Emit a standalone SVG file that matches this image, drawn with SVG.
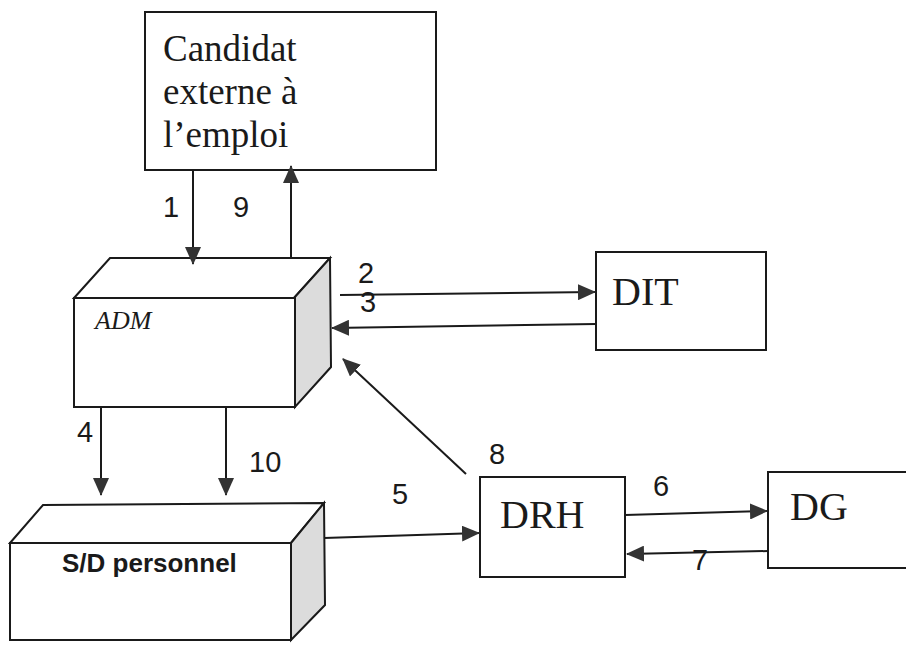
<svg xmlns="http://www.w3.org/2000/svg" width="906" height="645" viewBox="0 0 906 645">
<style>
.box{fill:#fff;stroke:#1a1a1a;stroke-width:2}
.side{fill:#dcdcdc;stroke:#1a1a1a;stroke-width:2}
.ln{stroke:#1a1a1a;stroke-width:2;fill:none;marker-end:url(#ah)}
.tm{font-family:"Liberation Serif",serif;fill:#1a1a1a}
.num{font-family:"Liberation Sans",sans-serif;font-size:29px;fill:#1a1a1a}
</style>
<defs>
<marker id="ah" markerWidth="18" markerHeight="16" refX="17" refY="8" orient="auto" markerUnits="userSpaceOnUse">
<path d="M0,0 L18,8 L0,16 z" fill="#333"/>
</marker>
</defs>
<rect width="906" height="645" fill="#fff"/>
<g id="candidat">
<rect class="box" x="145" y="12" width="291" height="158"/>
<text class="tm" font-size="37" x="163" y="61">Candidat</text>
<text class="tm" font-size="37" x="163" y="104">externe à</text>
<text class="tm" font-size="37" x="163" y="147">l’emploi</text>
</g>
<g id="adm">
<polygon class="box" points="74,298 110,258 330,258 294,298"/>
<polygon class="side" points="294,298 330,258 331,367 295,407"/>
<rect class="box" x="74" y="298" width="221" height="109"/>
<text class="tm" font-size="26" font-style="italic" x="95" y="329">ADM</text>
</g>
<g id="dit">
<rect class="box" x="596" y="252" width="170" height="98"/>
<text class="tm" font-size="40" x="612" y="305">DIT</text>
</g>
<g id="sd">
<polygon class="box" points="10,543 43,505 324,503 291,543"/>
<polygon class="side" points="291,543 324,503 325,605 291,640"/>
<rect class="box" x="10" y="543" width="281" height="97"/>
<text font-family="Liberation Sans,sans-serif" font-weight="bold" font-size="26" x="62" y="572" fill="#1a1a1a">S/D personnel</text>
</g>
<g id="drh">
<rect class="box" x="480" y="477" width="145" height="100"/>
<text class="tm" font-size="40" x="500" y="528">DRH</text>
</g>
<g id="dg">
<rect class="box" x="768" y="472" width="140" height="96"/>
<text class="tm" font-size="40" x="790" y="520">DG</text>
</g>
<g id="connectors">
<line class="ln" x1="193" y1="170" x2="193" y2="264"/>
<line class="ln" x1="291" y1="258" x2="291" y2="166"/>
<line class="ln" x1="340" y1="295" x2="595" y2="292"/>
<line class="ln" x1="596" y1="324" x2="332" y2="328"/>
<line class="ln" x1="466" y1="474" x2="343" y2="359"/>
<line class="ln" x1="101" y1="408" x2="101" y2="495"/>
<line class="ln" x1="226" y1="408" x2="226" y2="495"/>
<line class="ln" x1="324" y1="538" x2="479" y2="533"/>
<line class="ln" x1="625" y1="515" x2="767" y2="511"/>
<line class="ln" x1="768" y1="551" x2="627" y2="554"/>
</g>
<g id="labels">
<text class="num" x="163" y="217">1</text>
<text class="num" x="233" y="217">9</text>
<text class="num" x="358" y="283">2</text>
<text class="num" x="360" y="312">3</text>
<text class="num" x="77" y="442">4</text>
<text class="num" x="249" y="472">10</text>
<text class="num" x="392" y="504">5</text>
<text class="num" x="489" y="464">8</text>
<text class="num" x="653" y="496">6</text>
<text class="num" x="692" y="570">7</text>
</g>
</svg>
